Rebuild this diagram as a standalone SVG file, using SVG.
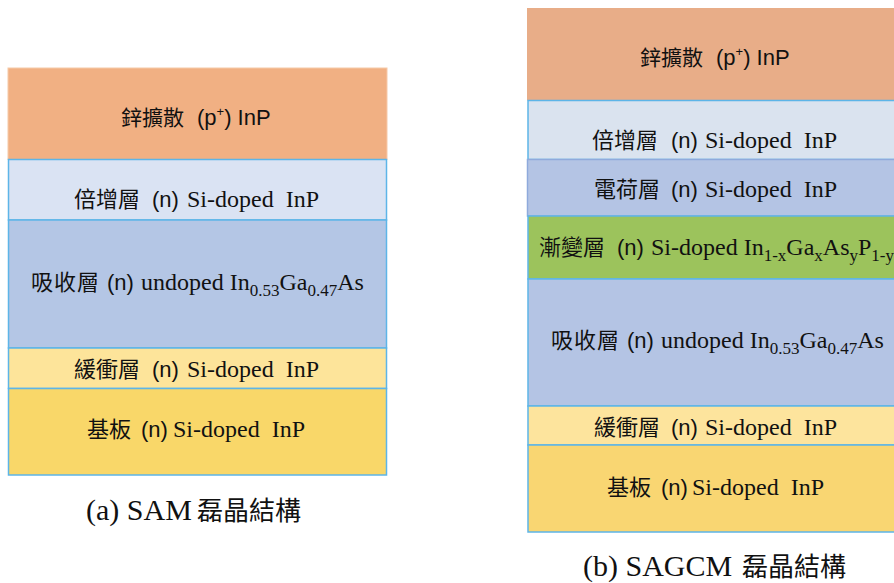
<svg xmlns="http://www.w3.org/2000/svg" width="894" height="583" viewBox="0 0 894 583">
<style>
text{fill:#111}
.cjk{font-family:"Noto Sans CJK TC","Noto Sans CJK SC",sans-serif;font-size:22px}
.cjkt{font-family:"Noto Sans CJK TC","Noto Sans CJK SC",sans-serif;font-size:21px}
.lat{font-family:"Liberation Serif","Times New Roman",serif;font-size:24px}
.sans{font-family:"Liberation Sans",Arial,sans-serif;font-size:22px}
.sub{font-size:17px}
.sup{font-size:13px}
.bl{stroke:#5db5e8;stroke-width:1.5}
.cap{font-family:"Liberation Serif","Times New Roman",serif;font-size:30px}
.capc{font-family:"Noto Sans CJK TC","Noto Sans CJK SC",sans-serif;font-size:26px}
</style>
<rect width="894" height="583" fill="#fff"/>
<g id="sam">
<g id="a-zinc"><rect x="8" y="68" width="379" height="91.5" fill="#f1b083" stroke="#f6c9a8" stroke-width="1"/>
<text y="125"><tspan class="cjkt" x="121">鋅擴散</tspan><tspan class="sans" x="197">(p</tspan><tspan class="sans sup" dy="-9">+</tspan><tspan class="sans" dy="9">) InP</tspan></text></g>
<g id="a-mult"><rect x="8.5" y="159.5" width="378" height="60.5" fill="#dae3f3" class="bl"/>
<text y="207" xml:space="preserve"><tspan class="cjk" x="74">倍增層</tspan><tspan class="sans" x="152">(n)</tspan><tspan class="lat" x="187">Si-doped  InP</tspan></text></g>
<g id="a-abs"><rect x="8.5" y="220" width="378" height="128" fill="#b4c6e5" class="bl"/>
<text y="290"><tspan class="cjk" x="31" letter-spacing="1">吸收層</tspan><tspan class="sans" x="107">(n)</tspan><tspan class="lat" x="141">undoped In</tspan><tspan class="lat sub" dy="6">0.53</tspan><tspan class="lat" dy="-6">Ga</tspan><tspan class="lat sub" dy="6">0.47</tspan><tspan class="lat" dy="-6">As</tspan></text></g>
<g id="a-buf"><rect x="8.5" y="348" width="378" height="40.5" fill="#fde49a" class="bl"/>
<text y="377" xml:space="preserve"><tspan class="cjk" x="74">緩衝層</tspan><tspan class="sans" x="152">(n)</tspan><tspan class="lat" x="187">Si-doped  InP</tspan></text></g>
<g id="a-sub"><rect x="8.5" y="388.5" width="378" height="86.5" fill="#f9d769" class="bl"/>
<text y="437" xml:space="preserve"><tspan class="cjk" x="87">基板</tspan><tspan class="sans" x="141">(n)</tspan><tspan class="lat" x="173">Si-doped  InP</tspan></text></g>
<text y="520"><tspan class="cap" x="86">(a) SAM</tspan><tspan class="capc" x="197">磊晶結構</tspan></text>
</g>
<g id="sagcm">
<g id="b-zinc"><rect x="527" y="8" width="379" height="92.5" fill="#e8ad88"/>
<text y="65"><tspan class="cjkt" x="640">鋅擴散</tspan><tspan class="sans" x="716">(p</tspan><tspan class="sans sup" dy="-9">+</tspan><tspan class="sans" dy="9">) InP</tspan></text></g>
<g id="b-mult"><rect x="528" y="100.5" width="378" height="59" fill="#dae3ef" class="bl"/>
<text y="148" xml:space="preserve"><tspan class="cjk" x="592">倍增層</tspan><tspan class="sans" x="671">(n)</tspan><tspan class="lat" x="705">Si-doped  InP</tspan></text></g>
<g id="b-charge"><rect x="527.5" y="159.5" width="378" height="56.5" fill="#b4c4e4" stroke="#8faadc" stroke-width="1.5"/>
<text y="197" xml:space="preserve"><tspan class="cjk" x="594">電荷層</tspan><tspan class="sans" x="671">(n)</tspan><tspan class="lat" x="705">Si-doped  InP</tspan></text></g>
<g id="b-grad"><rect x="528" y="216" width="378" height="63" fill="#9cc35c" class="bl"/>
<text y="255"><tspan class="cjk" x="539">漸變層</tspan><tspan class="sans" x="617">(n)</tspan><tspan class="lat" x="651">Si-doped In</tspan><tspan class="lat sub" dy="6">1-x</tspan><tspan class="lat" dy="-6">Ga</tspan><tspan class="lat sub" dy="6">x</tspan><tspan class="lat" dy="-6">As</tspan><tspan class="lat sub" dy="6">y</tspan><tspan class="lat" dy="-6">P</tspan><tspan class="lat sub" dy="6">1-y</tspan></text></g>
<g id="b-abs"><rect x="528" y="279" width="378" height="127" fill="#b4c4e4" class="bl"/>
<text y="348"><tspan class="cjk" x="551" letter-spacing="1">吸收層</tspan><tspan class="sans" x="627">(n)</tspan><tspan class="lat" x="661">undoped In</tspan><tspan class="lat sub" dy="6">0.53</tspan><tspan class="lat" dy="-6">Ga</tspan><tspan class="lat sub" dy="6">0.47</tspan><tspan class="lat" dy="-6">As</tspan></text></g>
<g id="b-buf"><rect x="528" y="406" width="378" height="39" fill="#fde49d" class="bl"/>
<text y="435" xml:space="preserve"><tspan class="cjk" x="594">緩衝層</tspan><tspan class="sans" x="671">(n)</tspan><tspan class="lat" x="705">Si-doped  InP</tspan></text></g>
<g id="b-sub"><rect x="528" y="445" width="378" height="87" fill="#f9d672" class="bl"/>
<text y="495" xml:space="preserve"><tspan class="cjk" x="607">基板</tspan><tspan class="sans" x="661">(n)</tspan><tspan class="lat" x="692">Si-doped  InP</tspan></text></g>
<text y="576"><tspan class="cap" x="583">(b) SAGCM</tspan><tspan class="capc" x="742">磊晶結構</tspan></text>
</g>
<g id="connectors"/>
</svg>
